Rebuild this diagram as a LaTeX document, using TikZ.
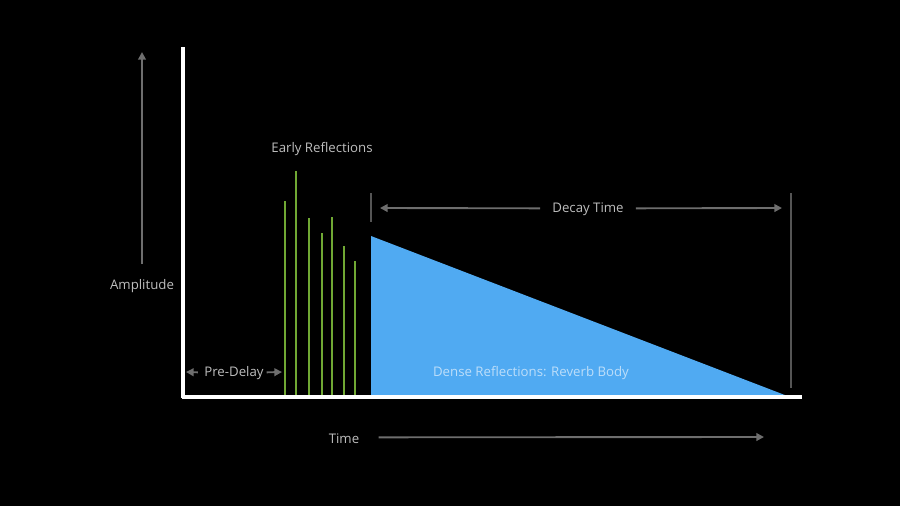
\documentclass[tikz,border=0pt]{standalone}
\usepackage{fontspec}
\setmainfont{Open Sans}
\usetikzlibrary{arrows.meta, positioning}
\definecolor{ReverbBlue}{RGB}{80, 170, 242}
\definecolor{BodyText}{RGB}{188, 222, 250}
\definecolor{EarlyGreen}{RGB}{112, 168, 52}
\definecolor{LabelGray}{RGB}{190, 190, 190}
\definecolor{ArrowGray}{RGB}{110, 110, 110}
\definecolor{MarkGray}{RGB}{85, 85, 85}

\tikzset{
  label/.style={text=LabelGray, font=\fontsize{11.3}{13}\selectfont},
  dimarrow/.style={ArrowGray, line width=1.6pt, -{Triangle[length=6.5pt, width=6.5pt]}},
  marker/.style={MarkGray, line width=0.9pt},
  reflection/.style={EarlyGreen, line width=1.2pt},
  axis/.style={white, line width=2.6pt}
}

\begin{document}
\begin{tikzpicture}[x=0.3mm, y=-0.3mm]
    % Background
    \fill[black] (0,0) rectangle (900,506);
    \useasboundingbox (0,0) rectangle (900,506);

    % Reverb body
    \fill[ReverbBlue] (371,236) -- (371,397) -- (790,397) -- cycle;
    \node[text=BodyText, font=\fontsize{11.3}{13}\selectfont] (body) at (531,373.5) {Dense Reflections: Reverb Body};

    % Early reflections
    \foreach \x/\y [count=\i] in {285/201, 296/171, 309/218, 322/233, 332/217, 344/246, 355/261} {
      \draw[reflection] (\x,397) -- (\x,\y);
    }
    \node[label] (early) at (322,149.5) {Early Reflections};

    % Axes
    \draw[axis] (183,47) -- (183,398.3);
    \draw[axis] (181.7,397) -- (802,397);

    % Amplitude
    \node[label] (amp) at (142,286.5) {Amplitude};
    \coordinate (amptop) at (142,52);
    \draw[dimarrow] ([yshift=10pt]amp.north) -- (amptop);

    % Time
    \node[label] (time) at (344,438.5) {Time};
    \coordinate (timeend) at (764,437);
    \draw[dimarrow] ([xshift=13pt,yshift=1pt]time.east) -- (timeend);

    % Pre-delay
    \node[label] (predelay) at (234,373.5) {Pre-Delay};
    \coordinate (preL) at (186,372);
    \coordinate (preR) at (282,372);
    \draw[dimarrow] ([xshift=-2pt,yshift=1pt]predelay.west) -- (preL);
    \draw[dimarrow] ([xshift=-1pt,yshift=1pt]predelay.east) -- (preR);

    % Decay time
    \coordinate (decayTopL) at (371,193);
    \coordinate (decayTopR) at (791,193);
    \draw[marker] (decayTopL) -- (371,222);
    \draw[marker] (decayTopR) -- (791,388);
    \node[label] (decay) at (588,209.5) {Decay Time};
    \coordinate (decayL) at (380,208);
    \coordinate (decayR) at (782,208);
    \draw[dimarrow] ([xshift=-7pt,yshift=1pt]decay.west) -- (decayL);
    \draw[dimarrow] ([xshift=7pt,yshift=1pt]decay.east) -- (decayR);
  \end{tikzpicture}
\end{document}
